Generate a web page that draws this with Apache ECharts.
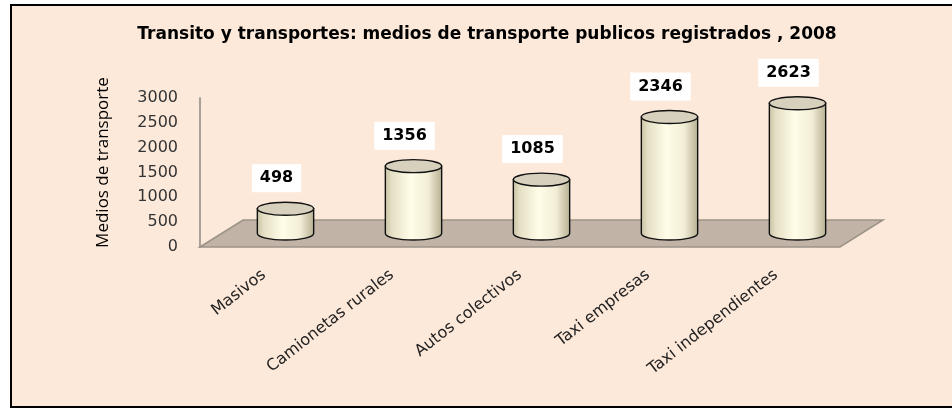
<!DOCTYPE html>
<html>
<head>
<meta charset="utf-8">
<script src="https://cdn.jsdelivr.net/npm/echarts@6/dist/echarts.min.js"></script>
<style>
  html, body { margin: 0; background: #fff; }
  #main { width: 952px; height: 410px; }
</style>
</head>
<body>
<div id="main"></div>
<script>
// datos del grafico
const categories = ['Masivos', 'Camionetas rurales', 'Autos colectivos', 'Taxi empresas', 'Taxi independientes'];
const values = [498, 1356, 1085, 2346, 2623];
const yMin = 0;
const yMax = 3000;
const yStep = 500;

// profundidad del "3D" (piso)
const DX = 43;
const DY = 27;

const chart = echarts.init(document.getElementById('main'));

// piso en perspectiva
function renderFloor(params, api) {
  const bw = api.size([1, 0])[0];
  const first = api.coord([0, 0]);
  const last = api.coord([categories.length - 1, 0]);
  const left = first[0] - bw / 2;
  const right = last[0] + bw / 2;
  const y0 = first[1];
  return {
    type: 'polygon',
    shape: { points: [[left, y0], [left + DX, y0 - DY], [right + DX, y0 - DY], [right, y0]] },
    style: { fill: '#C1B4A7', stroke: '#9C9288', lineWidth: 1.5 }
  };
}

// cilindros
function renderCylinder(params, api) {
  const i = api.value(0);
  const v = api.value(1);
  const base = api.coord([i, 0]);
  const top = api.coord([i, v]);
  const bw = api.size([1, 0])[0];
  const rx = bw * 0.22;
  const ry = 6.5;
  const cx = base[0] + DX / 2;
  const yb = base[1] - DY / 2;
  const yt = top[1] - DY / 2;
  const x1 = cx - rx;
  const x2 = cx + rx;
  const body = 'M' + x1 + ' ' + yt + 'L' + x1 + ' ' + yb +
    'A' + rx + ' ' + ry + ' 0 0 0 ' + x2 + ' ' + yb + 'L' + x2 + ' ' + yt + 'Z';
  const cap = 'M' + x1 + ' ' + yt + 'A' + rx + ' ' + ry + ' 0 1 0 ' + x2 + ' ' + yt +
    'A' + rx + ' ' + ry + ' 0 1 0 ' + x1 + ' ' + yt + 'Z';
  return {
    type: 'group',
    children: [
      {
        type: 'path',
        shape: { pathData: body },
        style: {
          fill: {
            type: 'linear', x: 0, y: 0, x2: 1, y2: 0,
            colorStops: [
              { offset: 0, color: '#C6BFA2' },
              { offset: 0.12, color: '#E4DFC4' },
              { offset: 0.45, color: '#FFFCE8' },
              { offset: 0.75, color: '#F2EED6' },
              { offset: 1, color: '#B5AE92' }
            ]
          },
          stroke: '#111',
          lineWidth: 1.4
        }
      },
      {
        type: 'path',
        shape: { pathData: cap },
        style: { fill: '#D7D0BD', stroke: '#111', lineWidth: 1.4 }
      },
      {
        type: 'text',
        style: {
          text: String(v),
          x: cx - 9,
          y: yt - ry - 24,
          align: 'center',
          verticalAlign: 'middle',
          font: 'bold 16px "DejaVu Sans"',
          fill: '#000',
          backgroundColor: '#fff',
          padding: [6, 8]
        }
      }
    ]
  };
}

const option = {
  animation: false,
  backgroundColor: '#fff',
  graphic: [
    {
      type: 'rect',
      z: -10,
      shape: { x: 11, y: 5, width: 960, height: 402 },
      style: { fill: '#FDE9DA', stroke: '#000', lineWidth: 2 }
    }
  ],
  title: {
    text: 'Transito y transportes: medios de transporte publicos registrados , 2008',
    left: 482,
    textAlign: 'center',
    top: 21,
    textStyle: { fontFamily: 'DejaVu Sans', fontSize: 17, fontWeight: 'bold', color: '#000' }
  },
  grid: { left: 200, top: 98, width: 640, bottom: 163, containLabel: false },
  xAxis: {
    type: 'category',
    data: categories,
    axisLine: { show: false },
    axisTick: { show: false },
    axisLabel: {
      interval: 0,
      rotate: 38,
      margin: 26,
      fontFamily: 'DejaVu Sans',
      fontSize: 16,
      color: '#222'
    }
  },
  yAxis: {
    type: 'value',
    min: yMin,
    max: yMax,
    interval: yStep,
    name: 'Medios de transporte',
    nameLocation: 'middle',
    nameGap: 88,
    nameTextStyle: { fontFamily: 'Open Sans', fontSize: 17, color: '#000', padding: [0, 0, 0, 20] },
    axisLine: { show: true, lineStyle: { color: '#A9A198', width: 2 } },
    axisTick: { show: false },
    splitLine: { show: false },
    axisLabel: {
      margin: 22,
      fontFamily: 'DejaVu Sans',
      fontSize: 16,
      color: '#333',
      formatter: (v) => String(v)
    }
  },
  series: [
    {
      name: 'piso',
      type: 'custom',
      z: 1,
      silent: true,
      renderItem: renderFloor,
      data: [[0, 0]]
    },
    {
      name: 'Medios de transporte',
      type: 'custom',
      z: 2,
      renderItem: renderCylinder,
      data: values.map((v, i) => [i, v])
    }
  ]
};

chart.setOption(option);
</script>
</body>
</html>
